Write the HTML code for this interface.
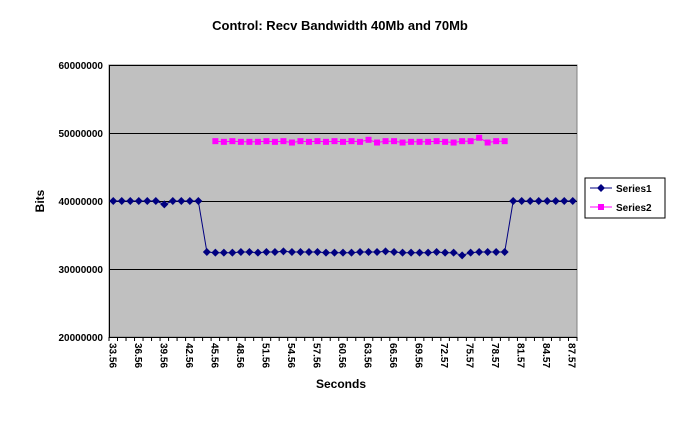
<!DOCTYPE html>
<html><head><meta charset="utf-8"><style>
html,body{margin:0;padding:0;background:#fff;}
svg{display:block;font-family:"Liberation Sans",Arial,sans-serif;font-weight:bold;}
</style></head><body>
<svg id="c" width="674" height="438" xmlns="http://www.w3.org/2000/svg">
<rect x="0" y="0" width="674" height="438" fill="#fff"/>
<text x="340" y="30" font-size="13" text-anchor="middle">Control: Recv Bandwidth 40Mb and 70Mb</text>
<rect x="109" y="65" width="468" height="272" fill="#c0c0c0" stroke="#808080"/>
<g stroke="#000" stroke-width="1">
<line x1="109" y1="65.5" x2="577" y2="65.5"/>
<line x1="109" y1="133.5" x2="577" y2="133.5"/>
<line x1="109" y1="201.5" x2="577" y2="201.5"/>
<line x1="109" y1="269.5" x2="577" y2="269.5"/>
<line x1="109.5" y1="65" x2="109.5" y2="337"/>
<line x1="109" y1="337.5" x2="577" y2="337.5"/>
</g>
<g font-size="10" text-anchor="end">
<text x="103" y="69">60000000</text>
<text x="103" y="137">50000000</text>
<text x="103" y="205">40000000</text>
<text x="103" y="273">30000000</text>
<text x="103" y="341">20000000</text>
</g>
<text x="44" y="201" font-size="12" text-anchor="middle" transform="rotate(-90 44 201)">Bits</text>
<text x="341" y="388" font-size="12" text-anchor="middle">Seconds</text>
<g id="g"></g>
<rect x="585" y="178" width="80" height="40" fill="#fff" stroke="#000"/>
<line x1="590" y1="188" x2="612" y2="188" stroke="#000080"/>
<path d="M601 184 L605 188 L601 192 L597 188Z" fill="#000080"/>
<text x="616" y="192" font-size="10">Series1</text>
<line x1="590" y1="207" x2="612" y2="207" stroke="#ff00ff"/>
<rect x="598" y="204" width="6" height="6" fill="#ff00ff"/>
<text x="616" y="211" font-size="10">Series2</text>
</svg>
<script>
var g=document.getElementById('g'),h="";
var W=468/55;
function X(i){return 109+W*(i+0.5);}
function Y(v){return 337-(v-20)*6.8;}
for(var i=0;i<=55;i++){var x=109+W*i;h+='<line x1="'+x+'" y1="337" x2="'+x+'" y2="341" stroke="#000"/>';}
var labs=["33.56","36.56","39.56","42.56","45.56","48.56","51.56","54.56","57.56","60.56","63.56","66.56","69.56","72.57","75.57","78.57","81.57","84.57","87.57"];
for(var k=0;k<labs.length;k++){var x=X(k*3)-4;h+='<text x="'+x+'" y="343" font-size="10" transform="rotate(90 '+x+' 343)">'+labs[k]+'</text>';}
var s1=[],s2=[];
var low=[32.5,32.4,32.4,32.4,32.5,32.5,32.4,32.5,32.5,32.6,32.5,32.5,32.5,32.5,32.4,32.4,32.4,32.4,32.5,32.5,32.5,32.6,32.5,32.4,32.4,32.4,32.4,32.5,32.4,32.4,32.0,32.4,32.5,32.5,32.5,32.5];
for(var i=0;i<55;i++){var v;if(i<11)v=(i==6?39.5:40);else if(i<=46)v=low[i-11];else v=40;s1.push([X(i),Y(v)]);}
var hi=[48.8,48.7,48.8,48.7,48.7,48.7,48.8,48.7,48.8,48.6,48.8,48.7,48.8,48.7,48.8,48.7,48.8,48.7,49.0,48.6,48.8,48.8,48.6,48.7,48.7,48.7,48.8,48.7,48.6,48.8,48.8,49.3,48.6,48.8,48.8];
for(var i=12;i<=46;i++){s2.push([X(i),Y(hi[i-12])]);}
function pl(a,c){return '<polyline fill="none" stroke="'+c+'" stroke-width="1" points="'+a.map(function(p){return p[0].toFixed(1)+','+p[1].toFixed(1)}).join(' ')+'"/>';}
h+=pl(s2,"#ff00ff")+pl(s1,"#000080");
s2.forEach(function(p){h+='<rect x="'+(p[0]-3)+'" y="'+(p[1]-3)+'" width="6" height="6" fill="#ff00ff"/>';});
s1.forEach(function(p){var x=p[0],y=p[1];h+='<path d="M'+x+' '+(y-4)+' L'+(x+4)+' '+y+' L'+x+' '+(y+4)+' L'+(x-4)+' '+y+'Z" fill="#000080"/>';});
g.innerHTML=h;
</script>
</body></html>
